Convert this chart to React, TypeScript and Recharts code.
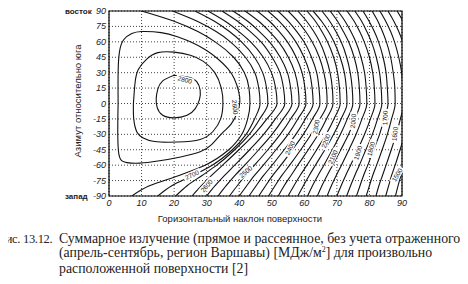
import { LineChart, Line, XAxis, YAxis, CartesianGrid, ReferenceArea, ReferenceDot } from "recharts";

// azimuth rows (deg, + = east) at which the open contours are sampled
const AZ_ROWS = [-90, -80, -70, -60, -45, -30, -15, 0, 15, 30, 45, 60, 70, 80, 90];

// tilt (deg) of each open contour at the rows above
const c2550 = [7, 12.4, 21.5, 29.5, 36.8, 40.8, 42.6, 43.3, 43, 41.6, 38.3, 32.6, 27.3, 20, 10];
const c2500 = [15, 19.3, 25.8, 31.7, 37.9, 42.1, 44.7, 46.4, 46.0, 44.8, 41.9, 37.3, 32.9, 27.1, 19.5];
const c2450 = [20.5, 24.0, 28.6, 33.1, 38.6, 43.1, 46.3, 48.8, 48.4, 47.2, 44.7, 40.7, 37.0, 32.4, 26.4];
const c2400 = [25.5, 28.4, 31.5, 34.9, 39.9, 44.6, 48.5, 51.6, 51.2, 49.9, 47.4, 43.5, 39.9, 35.7, 30.4];
const c2350 = [30, 32.6, 35.5, 38.6, 43.2, 47.5, 51.1, 54, 53.6, 52.5, 50.1, 46.7, 43.4, 39.5, 34.7];
const c2300 = [33.5, 36.0, 38.7, 41.7, 46.0, 50.1, 53.5, 56.2, 55.8, 54.8, 52.6, 49.3, 46.2, 42.6, 38.1];
const c2250 = [37, 39.4, 41.9, 44.7, 48.8, 52.6, 55.8, 58.4, 58.1, 57.1, 55.1, 52.1, 49.3, 46.0, 41.8];
const c2200 = [40, 42.3, 44.7, 47.4, 51.3, 55.0, 58.0, 60.5, 60.2, 59.3, 57.5, 54.8, 52.3, 49.3, 45.5];
const c2150 = [43, 45.2, 47.5, 50.1, 53.8, 57.4, 60.3, 62.7, 62.4, 61.6, 59.9, 57.4, 55.1, 52.3, 48.8];
const c2100 = [46, 48.1, 50.3, 52.8, 56.3, 59.7, 62.5, 64.8, 64.5, 63.8, 62.2, 59.9, 57.7, 55.1, 51.9];
const c2050 = [49, 51.0, 53.1, 55.5, 58.9, 62.1, 64.8, 67, 66.8, 66.0, 64.6, 62.4, 60.4, 58.0, 55];
const c2000 = [52, 53.8, 55.9, 58.0, 61.2, 64.3, 66.8, 68.8, 68.6, 67.9, 66.6, 64.7, 62.9, 60.7, 58];
const c1950 = [55, 56.8, 58.7, 60.8, 63.8, 66.7, 69.1, 71, 70.8, 70.2, 69.0, 67.1, 65.4, 63.4, 60.8];
const c1900 = [58, 59.7, 61.5, 63.4, 66.3, 69.0, 71.3, 73.1, 72.9, 72.3, 71.0, 69.1, 67.4, 65.3, 62.7];
const c1850 = [61, 62.5, 64.2, 66.0, 68.6, 71.1, 73.2, 74.9, 74.7, 74.1, 73.0, 71.3, 69.7, 67.8, 65.4];
const c1800 = [64, 65.4, 67.0, 68.7, 71.2, 73.6, 75.5, 77.1, 76.9, 76.4, 75.3, 73.6, 72.0, 70.2, 67.9];
const c1750 = [67, 68.3, 69.8, 71.4, 73.7, 75.9, 77.7, 79.2, 79.0, 78.5, 77.4, 75.8, 74.3, 72.5, 70.3];
const c1700 = [70, 71.3, 72.7, 74.2, 76.4, 78.5, 80.3, 81.7, 81.5, 81.0, 80.0, 78.4, 77.0, 75.3, 73.1];
const c1650 = [73, 74.2, 75.5, 76.9, 78.9, 80.9, 82.5, 83.8, 83.6, 83.1, 82.1, 80.6, 79.2, 77.6, 75.5];
const c1600 = [76, 77.1, 78.2, 79.5, 81.3, 83.1, 84.5, 85.7, 85.5, 85.1, 84.2, 82.8, 81.5, 79.9, 78];
const c1550 = [79, 80.0, 81.0, 82.2, 83.9, 85.5, 86.8, 87.9, 87.8, 87.3, 86.5, 85.2, 84.0, 82.6, 80.8];
const c1500 = [82, 82.9, 84.0, 85.1, 86.7, 88.2, 89.5, 90.5, 90.3, 89.9, 89.0, 87.7, 86.5, 85.0, 83.2];
const c1450 = [85, 85.9, 86.8, 87.9, 89.4, 90.8, 92.0, 93, 92.9, 92.4, 91.5, 90.2, 89.0, 87.5, 85.7];
const c1400 = [88, 88.8, 89.7, 90.7, 92.1, 93.5, 94.6, 95.5, 95.4, 94.9, 94.1, 92.8, 91.7, 90.3, 88.5];

// closed contours round the maximum, [tilt, azimuth]
const loop2800 = [
  [20, 27.5], [24.5, 25.5], [27, 21], [28, 13], [27.8, 4], [26.5, -5], [24, -11.5], [20, -14],
  [16.5, -11.5], [14.8, -4], [14.5, 5], [15, 14], [16.5, 22], [20, 27.5],
];
const loop2700 = [
  [7.5, 0], [8, 20], [9, 33], [11.5, 43], [15, 49.5], [20, 50], [25, 47], [29, 41], [32.5, 30],
  [34.5, 15], [35, 0], [34.3, -15], [32, -27], [28, -35], [21, -37.5], [14, -37], [10.5, -33.5],
  [8.6, -28], [7.6, -15], [7.5, 0],
];
const loop2600 = [
  [2.8, 0], [2.8, 30], [3.2, 50], [4.5, 62], [7, 68], [10, 70], [16, 69], [21, 65], [25, 60],
  [29.5, 52.5], [33.2, 44], [36.5, 34], [38.5, 24], [39.8, 12], [40.2, 2], [39.5, -8], [37.5, -20],
  [34.7, -29], [31.5, -40], [28, -47], [22, -52], [15, -56], [9.5, -58], [5.5, -57.5], [3.5, -54],
  [2.8, -42], [2.7, -20], [2.8, 0],
];

const OPEN = [
  c2550, c2500, c2450, c2400, c2350, c2300, c2250, c2200, c2150, c2100, c2050, c2000,
  c1950, c1900, c1850, c1800, c1750, c1700, c1650, c1600, c1550, c1500, c1450, c1400,
];
const LOOPS = [loop2800, loop2700, loop2600];

// contour labels: tilt, azimuth, text, rotation
const LABELS: [number, number, string, number][] = [
  [23.3, 23, "2800", 15],
  [38.7, -3.5, "2600", 85],
  [25.5, -69.5, "2700", -25],
  [30, -80, "2600", -50],
  [42, -66.5, "2500", -40],
  [55.6, -43.3, "2400", -65],
  [63.6, -22.8, "2300", -80],
  [66.6, -36.5, "2200", -70],
  [68.8, -52, "2100", -65],
  [75, -17, "2000", -85],
  [76.5, -48, "1900", -72],
  [80.5, -44.2, "1800", -75],
  [84.8, -14, "1700", -88],
  [87.8, -29.6, "1600", -85],
  [88.5, -69.5, "1500", -60],
];

const TILT_TICKS = [0, 10, 20, 30, 40, 50, 60, 70, 80, 90];
const AZ_TICKS = [-90, -75, -60, -45, -30, -15, 0, 15, 30, 45, 60, 75, 90];

const SANS = "'Liberation Sans', Arial, sans-serif";
const SERIF = "'Liberation Serif', 'Times New Roman', serif";

function YTick({ x, y, payload }: any) {
  const v = payload.value;
  return (
    <g fontFamily={SANS}>
      {v === 90 && (
        <text x={65} y={y} dy={3} fontSize={8} fontWeight="bold" fill="#222">
          восток
        </text>
      )}
      {v === -90 && (
        <text x={65} y={y} dy={3} fontSize={8} fontWeight="bold" fill="#222">
          запад
        </text>
      )}
      <text x={x} y={y} dy={3} textAnchor="end" fontSize={9} fontStyle="italic" fill="#222">
        {v}
      </text>
    </g>
  );
}

function XTick({ x, y, payload }: any) {
  return (
    <text x={x} y={y} dy={7} textAnchor="middle" fontSize={9} fontStyle="italic" fill="#222" fontFamily={SANS}>
      {payload.value}
    </text>
  );
}

function ContourLabel(text: string, angle: number) {
  return (props: any) => {
    const { cx, cy } = props;
    return (
      <g transform={`translate(${cx},${cy}) rotate(${angle})`}>
        <rect x={-9} y={-3.5} width={18} height={7} fill="#fff" />
        <text x={0} y={2.3} textAnchor="middle" fontSize={6.5} fill="#111" fontFamily={SANS}>
          {text}
        </text>
      </g>
    );
  };
}

export default function App() {
  return (
    <div style={{ position: "relative", width: 468, height: 284, margin: -8, background: "#fff", overflow: "hidden" }}>
      <LineChart width={468} height={215} margin={{ top: 11, right: 66, left: 0, bottom: 0 }}>
        <CartesianGrid stroke="#444" strokeDasharray="1 2" />
        <XAxis
          dataKey="t"
          type="number"
          domain={[0, 90]}
          ticks={TILT_TICKS}
          allowDataOverflow
          axisLine={false}
          tickLine={false}
          tickSize={0}
          tickMargin={3}
          height={19}
          tick={<XTick />}
          interval={0}
        />
        <YAxis
          type="number"
          domain={[-90, 90]}
          ticks={AZ_TICKS}
          allowDataOverflow
          axisLine={false}
          tickLine={false}
          tickSize={0}
          tickMargin={3}
          width={109}
          tick={<YTick />}
          interval={0}
        />
        {OPEN.map((tilts, i) => (
          <Line
            key={`open-${i}`}
            data={AZ_ROWS.map((a, k) => ({ t: tilts[k], a }))}
            dataKey="a"
            type="monotoneY"
            stroke="#111"
            strokeWidth={1.1}
            dot={false}
            activeDot={false}
            isAnimationActive={false}
          />
        ))}
        {LOOPS.map((pts, i) => (
          <Line
            key={`loop-${i}`}
            data={pts.map(([t, a]) => ({ t, a }))}
            dataKey="a"
            type="natural"
            stroke="#111"
            strokeWidth={1.1}
            dot={false}
            activeDot={false}
            isAnimationActive={false}
          />
        ))}
        {LABELS.map(([t, a, text, angle], i) => (
          <ReferenceDot key={`lab-${i}`} x={t} y={a} r={1} shape={ContourLabel(text, angle)} />
        ))}
        <ReferenceArea x1={0} x2={90} y1={-90} y2={90} fill="none" stroke="#000" strokeWidth={1.2} />
      </LineChart>
      <div
        style={{
          position: "absolute",
          left: 77,
          top: 101,
          transform: "translate(-50%,-50%) rotate(-90deg)",
          fontFamily: SANS,
          fontSize: 9.5,
          whiteSpace: "nowrap",
          color: "#222",
        }}
      >
        Азимут относительно юга
      </div>
      <div
        style={{
          position: "absolute",
          left: 240,
          top: 213,
          transform: "translateX(-50%)",
          fontFamily: SANS,
          fontSize: 9.5,
          whiteSpace: "nowrap",
          color: "#222",
        }}
      >
        Горизонтальный наклон поверхности
      </div>
      <div
        style={{
          position: "absolute",
          left: -1,
          top: 232,
          fontFamily: SERIF,
          fontSize: 12.5,
          letterSpacing: -0.3,
          lineHeight: "14px",
          color: "#222",
          whiteSpace: "nowrap",
        }}
      >
        Рис. 13.12.
      </div>
      <div
        style={{
          position: "absolute",
          left: 59,
          top: 232,
          fontFamily: SERIF,
          fontSize: 13.8,
          lineHeight: "14px",
          color: "#222",
          whiteSpace: "nowrap",
        }}
      >
        <div>Суммарное излучение (прямое и рассеянное, без учета отраженного)</div>
        <div>
          (апрель-сентябрь, регион Варшавы) [МДж/м
          <span style={{ fontSize: 8, position: "relative", top: -5 }}>2</span>] для произвольно
        </div>
        <div>расположенной поверхности [2]</div>
      </div>
    </div>
  );
}
